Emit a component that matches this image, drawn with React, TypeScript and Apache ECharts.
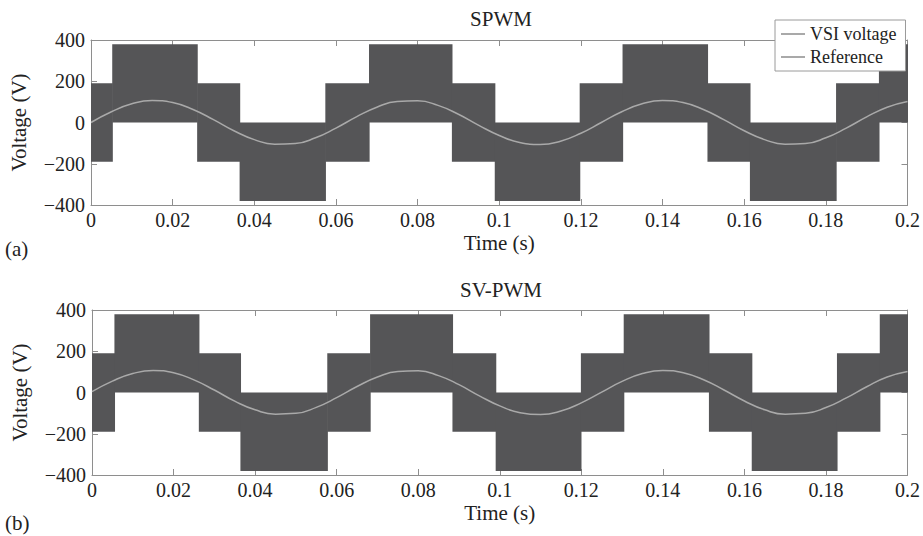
import React, { useEffect, useRef } from "react";
import * as echarts from "echarts";

// ---- Data ----
// Switching envelope segments (start/end times in s) with lower/upper voltage levels (V)
const spwmEdges = [0, 0.0052, 0.026, 0.0364, 0.0574, 0.0681, 0.0884, 0.0989, 0.1197, 0.1302, 0.151, 0.1614, 0.1825, 0.193, 0.2];
const spwmLow = [-190, 0, -190, -380, -190, 0, -190, -380, -190, 0, -190, -380, -190, 0];
const spwmHigh = [190, 380, 190, 0, 190, 380, 190, 0, 190, 380, 190, 0, 190, 380];

const svEdges = [0, 0.0055, 0.0262, 0.0364, 0.0577, 0.0682, 0.0884, 0.099, 0.1199, 0.1304, 0.1513, 0.1618, 0.1827, 0.1932, 0.2];
const svLow = [-190, 0, -190, -380, -190, 0, -190, -380, -190, 0, -190, -380, -190, 0];
const svHigh = [190, 380, 190, 0, 190, 380, 190, 0, 190, 380, 190, 0, 190, 380];

// Reference waveform samples
const refTime = [
  0, 0.005, 0.01, 0.015, 0.02, 0.025, 0.03, 0.035, 0.04, 0.045, 0.05, 0.055, 0.06, 0.065, 0.07, 0.075, 0.08,
  0.085, 0.09, 0.095, 0.1, 0.105, 0.11, 0.115, 0.12, 0.125, 0.13, 0.135, 0.14, 0.145, 0.15, 0.155, 0.16, 0.165,
  0.17, 0.175, 0.18, 0.185, 0.19, 0.195, 0.2,
];
const spwmRef = [
  0, 52, 91, 107, 97, 63, 14, -40, -83, -105, -102, -74, -27, 27, 74, 102, 105,
  83, 40, -14, -63, -97, -107, -91, -52, 0, 52, 91, 107, 97, 63, 14, -40, -83,
  -105, -102, -74, -27, 27, 74, 102,
];
const svRef = [
  4, 55, 92, 107, 96, 61, 12, -42, -84, -105, -101, -72, -25, 29, 75, 102, 105,
  82, 38, -16, -65, -98, -107, -90, -50, 2, 54, 92, 107, 96, 62, 12, -41, -84,
  -105, -101, -73, -26, 28, 75, 102,
];

const FONT = "'Liberation Serif', 'Times New Roman', serif";
const AXIS_COLOR = "#8e8e8e";
const FILL = "#555557";
const REF_COLOR = "#a9a9a9";
const TEXT = "#222";

function segs(edges: number[], low: number[], high: number[]) {
  return low.map((l, i) => [edges[i], edges[i + 1], l, high[i]]);
}

function fmtX(v: number) {
  return String(+v.toFixed(2));
}
function fmtY(v: number) {
  return v < 0 ? "\u2212" + Math.abs(v) : String(v);
}

export default function App() {
  const ref = useRef<HTMLDivElement>(null);

  useEffect(() => {
    if (!ref.current) return;
    const chart = echarts.init(ref.current, undefined, { renderer: "svg" });

    const grids = [
      { left: 90, top: 40, width: 822, height: 165 },
      { left: 92, top: 310, width: 820, height: 165 },
    ];

    const xAxes: any[] = [];
    const yAxes: any[] = [];
    grids.forEach((_, g) => {
      const common = {
        gridIndex: g,
        type: "value",
        min: 0,
        max: 0.2,
        interval: 0.02,
        splitLine: { show: false },
        axisLine: { show: true, onZero: false, lineStyle: { color: AXIS_COLOR, width: 1 } },
        axisTick: { show: true, inside: true, length: 6, lineStyle: { color: AXIS_COLOR } },
      };
      xAxes.push({
        ...common,
        position: "bottom",
        axisLabel: { show: true, margin: 5, color: TEXT, fontFamily: FONT, fontSize: 20, formatter: fmtX },
        name: "Time (s)",
        nameLocation: "middle",
        nameGap: 27,
        nameTextStyle: { color: TEXT, fontFamily: FONT, fontSize: 21 },
      });
      xAxes.push({ ...common, position: "top", axisLabel: { show: false } });

      const ycommon = {
        gridIndex: g,
        type: "value",
        min: -400,
        max: 400,
        interval: 200,
        splitLine: { show: false },
        axisLine: { show: true, onZero: false, lineStyle: { color: AXIS_COLOR, width: 1 } },
        axisTick: { show: true, inside: true, length: 6, lineStyle: { color: AXIS_COLOR } },
      };
      yAxes.push({
        ...ycommon,
        position: "left",
        axisLabel: { show: true, margin: 6, color: TEXT, fontFamily: FONT, fontSize: 20, formatter: fmtY },
        name: "Voltage (V)",
        nameLocation: "middle",
        nameGap: 62,
        nameTextStyle: { color: TEXT, fontFamily: FONT, fontSize: 21 },
      });
      yAxes.push({ ...ycommon, position: "right", axisLabel: { show: false } });
    });

    const renderRect = (params: any, api: any) => {
      const p0 = api.coord([api.value(0), api.value(3)]);
      const p1 = api.coord([api.value(1), api.value(2)]);
      return {
        type: "rect",
        shape: { x: p0[0], y: p0[1], width: p1[0] - p0[0] + 0.6, height: p1[1] - p0[1] },
        style: { fill: FILL },
      };
    };

    const envelopes = [segs(spwmEdges, spwmLow, spwmHigh), segs(svEdges, svLow, svHigh)];
    const refs = [spwmRef, svRef];

    const series: any[] = [];
    grids.forEach((_, g) => {
      series.push({
        name: "VSI voltage",
        type: "custom",
        xAxisIndex: g * 2,
        yAxisIndex: g * 2,
        renderItem: renderRect,
        encode: { x: [0, 1], y: [2, 3] },
        data: envelopes[g],
        clip: true,
        z: 2,
        silent: true,
      });
      series.push({
        name: "Reference",
        type: "line",
        xAxisIndex: g * 2,
        yAxisIndex: g * 2,
        data: refTime.map((t, i) => [t, refs[g][i]]),
        showSymbol: false,
        smooth: true,
        lineStyle: { color: REF_COLOR, width: 1.5 },
        itemStyle: { color: REF_COLOR },
        z: 3,
        silent: true,
      });
    });

    chart.setOption({
      animation: false,
      backgroundColor: "#ffffff",
      grid: grids,
      xAxis: xAxes,
      yAxis: yAxes,
      series,
      legend: {
        left: 775,
        top: 20,
        orient: "vertical",
        selectedMode: false,
        backgroundColor: "#ffffff",
        borderColor: "#9a9a9a",
        borderWidth: 1,
        borderRadius: 0,
        padding: [5, 9, 5, 6],
        itemWidth: 24,
        itemHeight: 2,
        itemGap: 5,
        itemTextGap: 9,
        textStyle: { color: TEXT, fontFamily: FONT, fontSize: 18 },
        data: [
          { name: "VSI voltage", icon: "rect", itemStyle: { color: REF_COLOR } },
          { name: "Reference", icon: "rect", itemStyle: { color: REF_COLOR } },
        ],
        z: 10,
      },
      graphic: [
        { type: "text", x: 501, y: 19, style: { text: "SPWM", fill: TEXT, font: `21px ${FONT}`, textAlign: "center", textVerticalAlign: "middle" } },
        { type: "text", x: 501, y: 290, style: { text: "SV-PWM", fill: TEXT, font: `21px ${FONT}`, textAlign: "center", textVerticalAlign: "middle" } },
        { type: "text", x: 5, y: 249, style: { text: "(a)", fill: TEXT, font: `21px ${FONT}`, textAlign: "left", textVerticalAlign: "middle" } },
        { type: "text", x: 5, y: 523, style: { text: "(b)", fill: TEXT, font: `21px ${FONT}`, textAlign: "left", textVerticalAlign: "middle" } },
      ],
    });

    return () => chart.dispose();
  }, []);

  return <div ref={ref} style={{ position: "absolute", left: 0, top: 0, width: 923, height: 536 }} />;
}
